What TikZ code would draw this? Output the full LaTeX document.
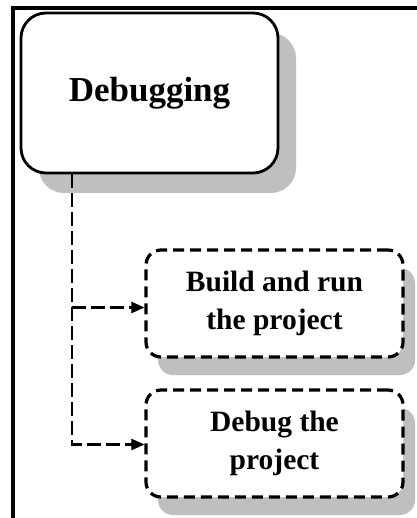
\documentclass[tikz,border=0pt]{standalone}
\usepackage{fontspec}
\setmainfont{Liberation Serif}
\usetikzlibrary{arrows.meta,shadows}
\tikzset{
  mainbox/.style={draw=black, line width=2.8pt, rounded corners=25pt, fill=white,
    minimum width=257pt, minimum height=160pt, inner sep=0pt,
    font=\fontsize{35}{40}\selectfont\bfseries,
    drop shadow={shadow xshift=18pt, shadow yshift=-20pt, fill=black!25, opacity=1}},
  taskbox/.style={draw=black, line width=3.2pt, dash pattern=on 11pt off 6pt,
    rounded corners=15pt, fill=white, align=center,
    minimum width=257pt, minimum height=107pt, inner sep=0pt,
    font=\fontsize{29.5}{38}\selectfont\bfseries,
    drop shadow={shadow xshift=12pt, shadow yshift=-18pt, fill=black!25, opacity=1}},
  link/.style={line width=2.1pt, dash pattern=on 14pt off 5pt,
    -{Triangle[length=13pt,width=11pt]}},
  linkshade/.style={link, draw=black!22, color=black!22},
  frameline/.style={line width=4pt, line cap=rect}
}
\begin{document}
\begin{tikzpicture}[x=1pt, y=-1pt]
\useasboundingbox (0,0) rectangle (416,518);
\fill[white] (0,0) rectangle (416,518);

% frame lines at the top and on the left
\coordinate (ftl) at (13,8);
\coordinate (ftr) at (420,8);
\coordinate (fbl) at (13,522);
\draw[frameline] (ftr) -- (ftl) -- (fbl);

% boxes
\node[mainbox] (dbg) at (149.5,93) {Debugging};
\node[taskbox] (build) at (274.5,303.5) {Build and run\\the project};
\node[taskbox] (debug) at (274.5,443.5) {Debug the\\project};

% connectors: light shadow first, then the black line
\coordinate (trunk) at ([xshift=52pt]dbg.south west);
\begin{scope}[shift={(5,4)}]
  \draw[linkshade] (trunk) |- ([yshift=-4pt]build.west);
  \draw[linkshade] (trunk) |- ([yshift=-1pt]debug.west);
\end{scope}
\draw[link] (trunk) |- ([yshift=-4pt]build.west);
\draw[link] (trunk) |- ([yshift=-1pt]debug.west);
\end{tikzpicture}
\end{document}
